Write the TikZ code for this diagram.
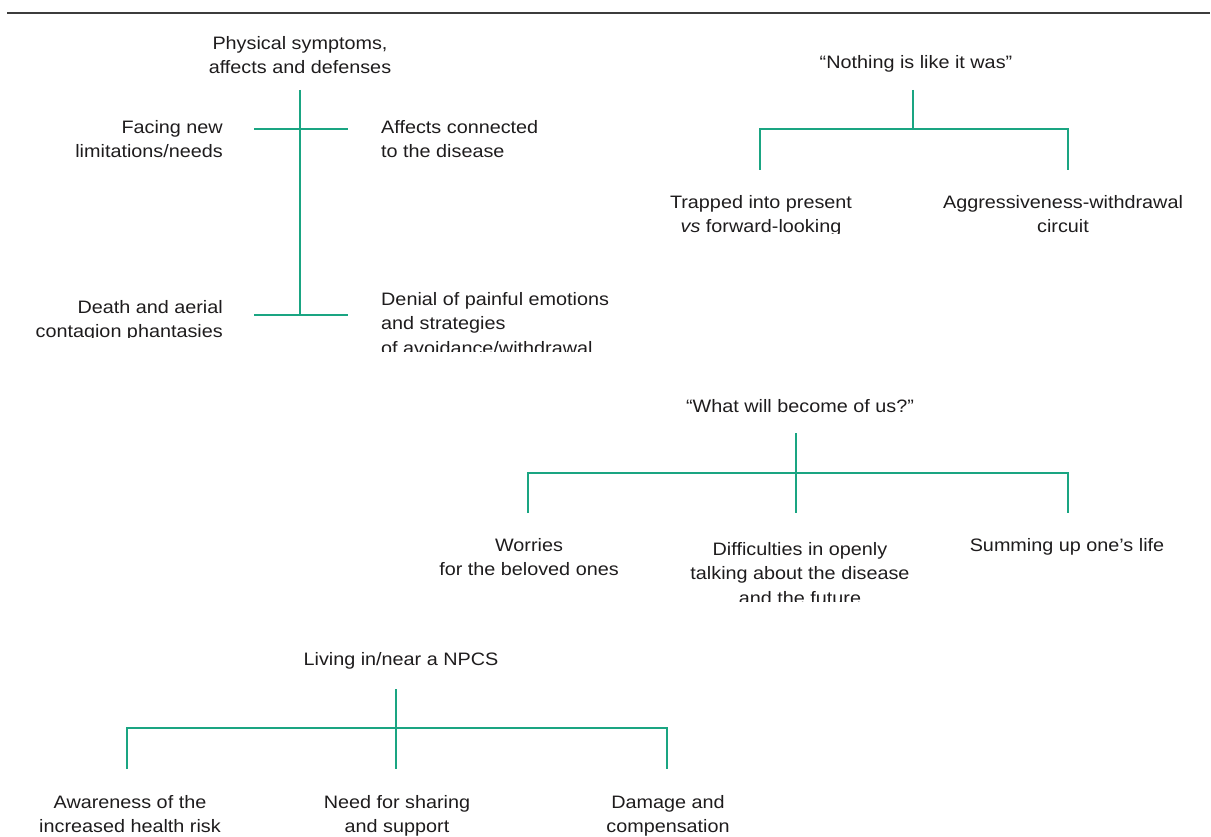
\documentclass[tikz,border=0pt]{standalone}
\usepackage{fontspec}
\setmainfont{Liberation Sans}[FakeStretch=1.1]
\usepackage{tikz}

\definecolor{branchgreen}{RGB}{26,165,130}
\definecolor{inkgray}{RGB}{30,28,29}
\definecolor{rulegray}{RGB}{60,60,60}

\tikzset{
  branch/.style={draw=branchgreen, line width=2.8pt},
  leaf/.style={text=inkgray, inner sep=0pt, anchor=north, align=center,
               font=\fontsize{18}{24.5}\selectfont},
  topic/.style={leaf}
}

\begin{document}
\begin{tikzpicture}[x=1pt,y=-1pt]
\useasboundingbox (0,0) rectangle (1211,837);
\draw[rulegray, line width=1.5pt] (7,13) -- (1210,13);

% physical symptoms
\node[topic] (phys) at (300,36) {Physical symptoms,\\affects and defenses};
\node[leaf, anchor=north east, align=right] (facing) at (223,120)
  {Facing new\\limitations/needs};
\node[leaf, anchor=north west, align=left] (affects) at (381,120)
  {Affects connected\\to the disease};
\begin{scope}
\clip (0,280) rectangle (240,337);
\node[leaf, anchor=north east, align=right] (death) at (223,300)
  {Death and aerial\\contagion phantasies};
\end{scope}
\begin{scope}
\clip (370,280) rectangle (640,351);
\node[leaf, anchor=north west, align=left] (denial) at (381,292)
  {Denial of painful emotions\\and strategies\\of avoidance/withdrawal};
\end{scope}
\coordinate (phys-top) at (300,90);
\coordinate (phys-bot) at (300,315);
\coordinate (facing-end) at (254,129);
\coordinate (affects-end) at (348,129);
\coordinate (death-end) at (254,315);
\coordinate (denial-end) at (348,315);
\draw[branch] (phys-top) -- (phys-bot);
\draw[branch] (facing-end) -- (affects-end);
\draw[branch] (death-end) -- (denial-end);

% nothing is like it was
\node[topic] (nothing) at (916,55) {``Nothing is like it was''};
\begin{scope}
\clip (640,185) rectangle (890,234);
\node[leaf] (trapped) at (761,195)
  {Trapped into present\\\textit{vs} forward-looking};
\end{scope}
\node[leaf] (aggr) at (1063,195) {Aggressiveness-withdrawal\\circuit};
\coordinate (nothing-top) at (913,90);
\coordinate (nothing-mid) at (913,129);
\coordinate (trapped-end) at (760,170);
\coordinate (aggr-end) at (1068,170);
\draw[branch] (nothing-top) -- (nothing-mid);
\draw[branch] (trapped-end) |- (nothing-mid) -| (aggr-end);

% what will become of us
\node[topic] (become) at (800,399) {``What will become of us?''};
\node[leaf] (worries) at (529,538) {Worries\\for the beloved ones};
\begin{scope}
\clip (680,530) rectangle (930,601);
\node[leaf] (talking) at (800,542)
  {Difficulties in openly\\talking about the disease\\and the future};
\end{scope}
\node[leaf] (summing) at (1067,538) {Summing up one's life};
\coordinate (become-top) at (796,433);
\coordinate (become-mid) at (796,473);
\coordinate (talking-end) at (796,513);
\coordinate (worries-end) at (528,513);
\coordinate (summing-end) at (1068,513);
\draw[branch] (become-top) -- (talking-end);
\draw[branch] (worries-end) |- (become-mid) -| (summing-end);

% living near a NPCS
\node[topic] (living) at (401,652) {Living in/near a NPCS};
\node[leaf] (aware) at (130,795) {Awareness of the\\increased health risk};
\node[leaf] (sharing) at (397,795) {Need for sharing\\and support};
\node[leaf] (damage) at (668,795) {Damage and\\compensation};
\coordinate (living-top) at (396,689);
\coordinate (living-mid) at (396,728);
\coordinate (sharing-end) at (396,769);
\coordinate (aware-end) at (127,769);
\coordinate (damage-end) at (667,769);
\draw[branch] (living-top) -- (sharing-end);
\draw[branch] (aware-end) |- (living-mid) -| (damage-end);
\end{tikzpicture}
\end{document}
